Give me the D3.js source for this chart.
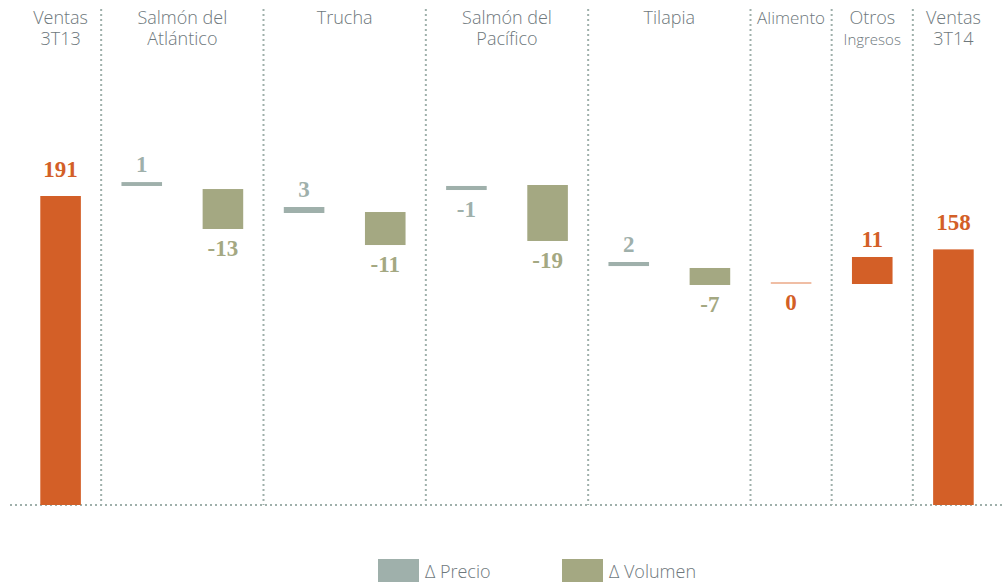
<!DOCTYPE html>
<html>
<head>
<meta charset="utf-8">
<script src="https://cdn.jsdelivr.net/npm/d3@7"></script>
<style>
  body { margin: 0; background: #fff; }
  .cab { font-family: "Open Sans", sans-serif; font-weight: 300; fill: #6e787c; }
  .valor { font-family: "Liberation Serif", serif; font-weight: bold; font-size: 23px; }
</style>
</head>
<body>
<div id="chart"></div>
<script>
// ventas totales (3T13, 3T14)
var ventas = [191, 158];
// variaciones por especie
var especies = ["Salmón del Atlántico", "Trucha", "Salmón del Pacífico", "Tilapia"];
var deltaPrecio = [1, 3, -1, 2];
var deltaVolumen = [-13, -11, -19, -7];
var alimento = 0;
var otrosIngresos = 11;
// niveles [desde, hasta] (no es una cascada exacta)
var nivelPrecio = [[197.2, 199.6], [180.5, 184.2], [197.2, 194.7], [147.7, 150.2]];
var nivelVolumen = [[195.3, 170.6], [181.1, 160.7], [197.8, 163.2], [146.5, 136.0]];
var nivelAlimento = [137.2, 137.2];
var nivelOtros = [136.6, 153.3];
// cabeceras de columna
var cabeceras = [["Ventas", "3T13"], ["Salmón del", "Atlántico"], ["Trucha"], ["Salmón del", "Pacífico"],
                 ["Tilapia"], ["Alimento"], ["Otros", "Ingresos"], ["Ventas", "3T14"]];
var leyenda = ["Δ Precio", "Δ Volumen"];

function init(){
    var w = 1003, h = 582;
    var base = 505; // linea base

    var naranja = "#d35f27", gris = "#9fb0ab", oliva = "#a4a882";

    var svg = d3.select("#chart").append("svg")
        .attr("width", w).attr("height", h);

    // una ranura por barra
    var slots = ["v13"];
    especies.forEach(function(d, i){ slots.push("p" + i, "v" + i); });
    slots.push("alim", "otros", "v14");

    var x = d3.scaleBand().domain(slots).range([20, 994])
        .paddingInner(0.5).paddingOuter(0.25);
    var step = x.step(), bw = x.bandwidth();
    var borde = function(s){ return x(s) - (step - bw) / 2; }; // borde izq. de la ranura

    var y = d3.scaleLinear().domain([0, 191]).range([base, 196]);

    // grupos (columnas con cabecera)
    var grupos = [["v13"]];
    especies.forEach(function(d, i){ grupos.push(["p" + i, "v" + i]); });
    grupos.push(["alim"], ["otros"], ["v14"]);

    // lineas punteadas verticales
    svg.selectAll(".div").data(grupos.slice(1)).enter().append("line")
        .attr("x1", function(g){ return borde(g[0]); })
        .attr("x2", function(g){ return borde(g[0]); })
        .attr("y1", 9).attr("y2", base)
        .attr("stroke", gris).attr("stroke-width", 2)
        .attr("stroke-dasharray", "2,3");

    svg.append("line")
        .attr("x1", 10).attr("x2", w).attr("y1", base).attr("y2", base)
        .attr("stroke", gris).attr("stroke-width", 2)
        .attr("stroke-dasharray", "2,3");

    // cabeceras
    cabeceras.forEach(function(c, i){
        var g = grupos[i];
        var cx = (borde(g[0]) + borde(g[g.length - 1]) + step) / 2;
        var t = svg.append("text").attr("class", "cab")
            .attr("text-anchor", "middle").attr("x", cx);
        c.forEach(function(line, j){
            t.append("tspan").attr("x", cx).attr("y", 24 + j * 21)
                .attr("font-size", (c[0] == "Otros" && j == 1) ? 15 : (c[0] == "Alimento" ? 17 : 18))
                .text(line);
        });
    });

    // barras flotantes
    var barras = [];
    barras.push({s: "v13", desde: 0, hasta: ventas[0], valor: ventas[0], color: naranja, total: true});
    especies.forEach(function(e, i){
        barras.push({s: "p" + i, desde: nivelPrecio[i][0], hasta: nivelPrecio[i][1], valor: deltaPrecio[i], color: gris});
        barras.push({s: "v" + i, desde: nivelVolumen[i][0], hasta: nivelVolumen[i][1], valor: deltaVolumen[i], color: oliva});
    });
    barras.push({s: "alim", desde: nivelAlimento[0], hasta: nivelAlimento[1], valor: alimento, color: naranja, linea: true});
    barras.push({s: "otros", desde: nivelOtros[0], hasta: nivelOtros[1], valor: otrosIngresos, color: naranja});
    barras.push({s: "v14", desde: 0, hasta: ventas[1], valor: ventas[1], color: naranja, total: true});

    svg.selectAll(".bar").data(barras.filter(function(d){ return !d.linea; })).enter().append("rect")
        .attr("x", function(d){ return x(d.s); })
        .attr("width", bw)
        .attr("y", function(d){ return y(Math.max(d.desde, d.hasta)); })
        .attr("height", function(d){ return Math.abs(y(d.desde) - y(d.hasta)); })
        .attr("fill", function(d){ return d.color; });

    svg.selectAll(".lin").data(barras.filter(function(d){ return d.linea; })).enter().append("line")
        .attr("x1", function(d){ return x(d.s); })
        .attr("x2", function(d){ return x(d.s) + bw; })
        .attr("y1", function(d){ return y(d.desde); })
        .attr("y2", function(d){ return y(d.desde); })
        .attr("stroke", "#f0bea5").attr("stroke-width", 2);

    // etiquetas de valor
    svg.selectAll(".valor").data(barras).enter().append("text")
        .attr("class", "valor")
        .attr("text-anchor", "middle")
        .attr("x", function(d){ return x(d.s) + bw / 2; })
        .attr("y", function(d){
            var top = y(Math.max(d.desde, d.hasta)), bot = y(Math.min(d.desde, d.hasta));
            if (d.total) return top - 19;
            return d.valor > 0 ? top - 10 : bot + 27;
        })
        .attr("fill", function(d){ return d.color; })
        .text(function(d){ return d.valor; });

    // leyenda
    var lx = [378, 562];
    leyenda.forEach(function(l, i){
        svg.append("rect").attr("x", lx[i]).attr("y", 559).attr("width", 41).attr("height", 23)
            .attr("fill", i == 0 ? gris : oliva);
        svg.append("text").attr("class", "cab").attr("x", lx[i] + 47).attr("y", 578)
            .attr("font-size", 18).attr("fill", "#7a858c").text(l);
    });
}
window.onload = init;
</script>
</body>
</html>
